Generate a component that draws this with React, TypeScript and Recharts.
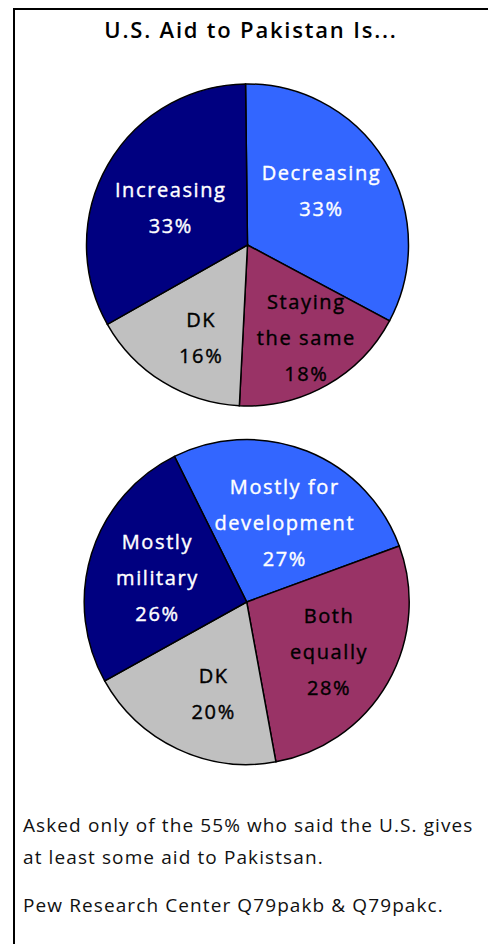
import { PieChart, Pie, Cell } from 'recharts';

// Q79pakb: is U.S. aid increasing / decreasing
const trendNames = ['Decreasing', 'Staying\nthe same', 'DK', 'Increasing'];
const trendValues = [33, 18, 16, 33];

// Q79pakc: what the aid is mostly for
const purposeNames = ['Mostly for\ndevelopment', 'Both\nequally', 'DK', 'Mostly\nmilitary'];
const purposeValues = [27, 28, 20, 26];

const footNotes = [
  'Asked only of the 55% who said the U.S. gives',
  'at least some aid to Pakistsan.',
  'Pew Research Center Q79pakb & Q79pakc.',
];

const trendColors = ['#3366FF', '#993366', '#C0C0C0', '#000080'];
const purposeColors = ['#3366FF', '#993366', '#C0C0C0', '#000080'];
const trendText = ['#fff', '#000', '#000', '#fff'];
const purposeText = ['#fff', '#000', '#000', '#fff'];

// label placement tweaks (fraction of radius, angle nudge in degrees)
const trendLabelPos = [
  { r: 0.57, da: 5 },
  { r: 0.68, da: 3 },
  { r: 0.64, da: 5 },
  { r: 0.53, da: 4 },
];
const purposeLabelPos = [
  { r: 0.54, da: -4 },
  { r: 0.59, da: -1 },
  { r: 0.6, da: 5.5 },
  { r: 0.57, da: 1.7 },
];

const FONT = '"Open Sans", "DejaVu Sans", sans-serif';
const RAD = Math.PI / 180;

const trendData = trendNames.map((name, i) => ({ name, value: trendValues[i] }));
const purposeData = purposeNames.map((name, i) => ({ name, value: purposeValues[i] }));

const makeLabel = (pos: { r: number; da: number }[], colors: string[]) => (props: any) => {
  const { cx, cy, midAngle, outerRadius, index, name, value } = props;
  const p = pos[index];
  const a = (midAngle + p.da) * RAD;
  const x = cx + outerRadius * p.r * Math.cos(a);
  const y = cy - outerRadius * p.r * Math.sin(a);
  const lines = [...String(name).split('\n'), `${value}%`];
  const step = 36;
  return (
    <g>
      {lines.map((t, i) => (
        <text
          key={i}
          x={x}
          y={y + (i - (lines.length - 1) / 2) * step}
          fill={colors[index]}
          stroke={colors[index]}
          strokeWidth={0.4}
          textAnchor="middle"
          dominantBaseline="central"
          fontFamily={FONT}
          fontSize={20}
          letterSpacing={1.6}
        >
          {t}
        </text>
      ))}
    </g>
  );
};

export default function App() {
  return (
    <div
      style={{
        position: 'absolute',
        left: 0,
        top: 0,
        width: 488,
        height: 944,
        overflow: 'hidden',
        background: '#fff',
        fontFamily: FONT,
      }}
    >
      <div
        style={{
          position: 'absolute',
          left: 13,
          top: 8,
          width: 520,
          height: 1000,
          border: '2px solid #000',
          boxSizing: 'border-box',
        }}
      />
      <div
        style={{
          position: 'absolute',
          left: 0,
          top: 14,
          width: 502,
          textAlign: 'center',
          fontSize: 22,
          fontWeight: 600,
          letterSpacing: 1.8,
          color: '#000',
        }}
      >
        U.S. Aid to Pakistan Is...
      </div>
      <div style={{ position: 'absolute', left: 0, top: 0 }}>
        <PieChart width={488} height={780} margin={{ top: 0, right: 0, bottom: 0, left: 0 }}>
          <Pie
            data={trendData}
            dataKey="value"
            nameKey="name"
            cx={247.5}
            cy={245}
            outerRadius={161}
            startAngle={90.7}
            endAngle={-269.3}
            stroke="#000"
            strokeWidth={1.5}
            labelLine={false}
            label={makeLabel(trendLabelPos, trendText)}
            isAnimationActive={false}
          >
            {trendData.map((d, i) => (
              <Cell key={d.name} fill={trendColors[i]} />
            ))}
          </Pie>
          <Pie
            data={purposeData}
            dataKey="value"
            nameKey="name"
            cx={246.7}
            cy={602}
            outerRadius={162.5}
            startAngle={116.4}
            endAngle={-243.6}
            stroke="#000"
            strokeWidth={1.5}
            labelLine={false}
            label={makeLabel(purposeLabelPos, purposeText)}
            isAnimationActive={false}
          >
            {purposeData.map((d, i) => (
              <Cell key={d.name} fill={purposeColors[i]} />
            ))}
          </Pie>
        </PieChart>
      </div>
      {footNotes.map((t, i) => (
        <div
          key={i}
          style={{
            position: 'absolute',
            left: 23,
            top: [810, 842, 890][i],
            lineHeight: '30px',
            fontSize: 19,
            letterSpacing: 1.1,
            color: '#111',
            whiteSpace: 'nowrap',
          }}
        >
          {t}
        </div>
      ))}
    </div>
  );
}
